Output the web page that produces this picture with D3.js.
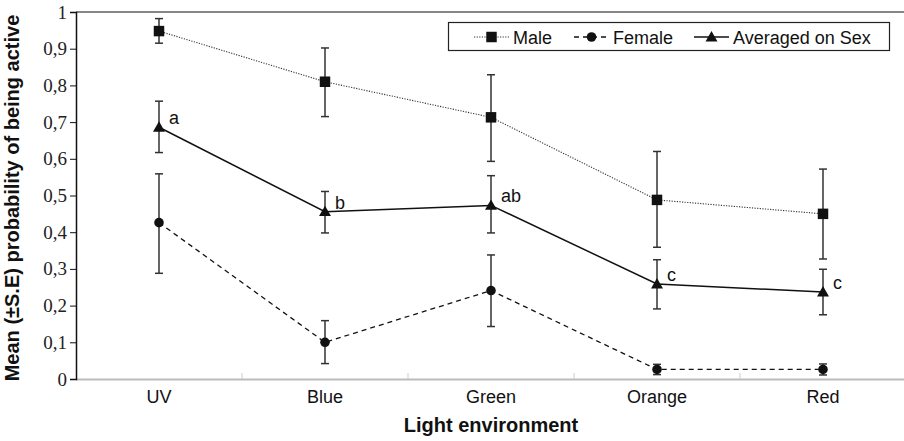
<!DOCTYPE html>
<html><head><meta charset="utf-8">
<script src="https://cdn.jsdelivr.net/npm/d3@7"></script>
<style>body{margin:0;background:#fff}svg{display:block}</style>
</head><body>
<svg id="c" width="904" height="441"></svg>
<script>
const categories = ["UV","Blue","Green","Orange","Red"];
const yTicks = [0,0.1,0.2,0.3,0.4,0.5,0.6,0.7,0.8,0.9,1];
const yTickLabels = ["0","0,1","0,2","0,3","0,4","0,5","0,6","0,7","0,8","0,9","1"];
const maleMean  = [0.948,0.810,0.713,0.488,0.450];
const maleHigh  = [0.982,0.902,0.829,0.620,0.572];
const maleLow   = [0.915,0.715,0.593,0.359,0.327];
const femaleMean= [0.426,0.100,0.241,0.026,0.026];
const femaleHigh= [0.559,0.159,0.338,0.040,0.041];
const femaleLow = [0.288,0.042,0.143,0.012,0.011];
const avgMean   = [0.686,0.456,0.473,0.259,0.237];
const avgHigh   = [0.757,0.511,0.554,0.325,0.299];
const avgLow    = [0.617,0.398,0.398,0.191,0.175];
const avgLetters= ["a","b","ab","c","c"];
const seriesNames = ["Male","Female","Averaged on Sex"];

const svg = d3.select("#c");
const L=76, R=906, T=12, B=379;
const x = d3.scaleBand().domain(categories).range([L,R]);
const y = d3.scaleLinear().domain([0,1]).range([B,T]);
const cx = c => x(c)+x.bandwidth()/2;

const series = [
  {name:seriesNames[0], mean:maleMean, hi:maleHigh, lo:maleLow, dash:"1.2,1.4", w:1.1, col:"#333", sym:d3.symbolSquare, size:110},
  {name:seriesNames[1], mean:femaleMean, hi:femaleHigh, lo:femaleLow, dash:"5,4", w:1.3, col:"#111", sym:d3.symbolCircle, size:72},
  {name:seriesNames[2], mean:avgMean, hi:avgHigh, lo:avgLow, dash:null, w:1.5, col:"#111", sym:d3.symbolTriangle, size:62}
];

// x axis (gray baseline)
svg.append("line").attr("x1",L).attr("x2",904).attr("y1",B+0.5).attr("y2",B+0.5)
  .attr("stroke","#bbb").attr("stroke-width",2);
categories.slice(1).forEach(c=>{
  svg.append("line").attr("x1",x(c)).attr("x2",x(c)).attr("y1",B).attr("y2",B-6)
    .attr("stroke","#ccc").attr("stroke-width",1);
});
const xa = svg.append("g").attr("transform",`translate(0,${B})`)
  .call(d3.axisBottom(x).tickSize(0).tickPadding(11));
xa.select(".domain").remove();
xa.selectAll("text").attr("font-family","Liberation Sans, Arial, sans-serif")
  .attr("font-size",18).attr("fill","#111").attr("dy","0.71em");

// top border
svg.append("line").attr("x1",L).attr("x2",904).attr("y1",T).attr("y2",T)
  .attr("stroke","#111").attr("stroke-width",1.2);

// y axis
const ya = svg.append("g").attr("transform",`translate(${L},0)`)
  .call(d3.axisLeft(y).tickValues(yTicks).tickFormat((d,i)=>yTickLabels[i]).tickSize(6).tickPadding(3));
ya.select(".domain").attr("stroke","#111").attr("stroke-width",1.5);
ya.selectAll(".tick line").attr("stroke","#111").attr("stroke-width",1);
ya.selectAll("text").attr("font-family","Liberation Serif, Times New Roman, serif")
  .attr("font-size",19).attr("fill","#222");

// titles
svg.append("text").attr("x",(L+R)/2).attr("y",432).attr("text-anchor","middle")
  .attr("font-family","Liberation Sans, Arial, sans-serif").attr("font-weight","bold")
  .attr("font-size",20).attr("fill","#111").text("Light environment");
svg.append("text").attr("transform","translate(19,198) rotate(-90)").attr("text-anchor","middle")
  .attr("font-family","Liberation Sans, Arial, sans-serif").attr("font-weight","bold")
  .attr("font-size",20).attr("fill","#111").text("Mean (±S.E) probability of being active");

// lines, error bars, markers
series.forEach(s=>{
  const pts = categories.map((c,i)=>({c, m:s.mean[i], hi:s.hi[i], lo:s.lo[i]}));
  svg.append("path").datum(pts)
    .attr("d", d3.line().x(d=>cx(d.c)).y(d=>y(d.m)))
    .attr("fill","none").attr("stroke",s.col).attr("stroke-width",s.w)
    .attr("stroke-dasharray",s.dash);
  const g = svg.append("g").attr("stroke","#333").attr("stroke-width",1.5);
  pts.forEach(d=>{
    g.append("line").attr("x1",cx(d.c)).attr("x2",cx(d.c)).attr("y1",y(d.hi)).attr("y2",y(d.lo));
    g.append("line").attr("x1",cx(d.c)-4).attr("x2",cx(d.c)+4).attr("y1",y(d.hi)).attr("y2",y(d.hi));
    g.append("line").attr("x1",cx(d.c)-4).attr("x2",cx(d.c)+4).attr("y1",y(d.lo)).attr("y2",y(d.lo));
  });
  svg.append("g").selectAll("path").data(pts).join("path")
    .attr("d", d3.symbol().type(s.sym).size(s.size))
    .attr("transform",d=>`translate(${cx(d.c)},${y(d.m) + (s.sym===d3.symbolTriangle?1:0)})`)
    .attr("fill","#111");
});

// significance letters
svg.append("g").selectAll("text").data(categories).join("text")
  .attr("x",c=>cx(c)+10).attr("y",(c,i)=>y(avgMean[i])-3)
  .attr("font-family","Liberation Sans, Arial, sans-serif").attr("font-size",18).attr("fill","#111")
  .text((c,i)=>avgLetters[i]);

// legend
const lg = svg.append("g");
lg.append("rect").attr("x",448.5).attr("y",22.5).attr("width",441).attr("height",28)
  .attr("fill","#fff").attr("stroke","#222").attr("stroke-width",1.2);
const legX = [474, 574, 694];
series.forEach((s,i)=>{
  const x0 = legX[i], yy = 37;
  lg.append("line").attr("x1",x0).attr("x2",x0+35).attr("y1",yy).attr("y2",yy)
    .attr("stroke",s.col).attr("stroke-width",s.w).attr("stroke-dasharray",s.dash);
  lg.append("path").attr("d",d3.symbol().type(s.sym).size(s.size))
    .attr("transform",`translate(${x0+17.5},${yy+(s.sym===d3.symbolTriangle?1:0)})`).attr("fill","#111");
  lg.append("text").attr("x",x0+39).attr("y",yy+6.5)
    .attr("font-family","Liberation Sans, Arial, sans-serif").attr("font-size",18).attr("fill","#111")
    .text(s.name);
});
</script>
</body></html>
